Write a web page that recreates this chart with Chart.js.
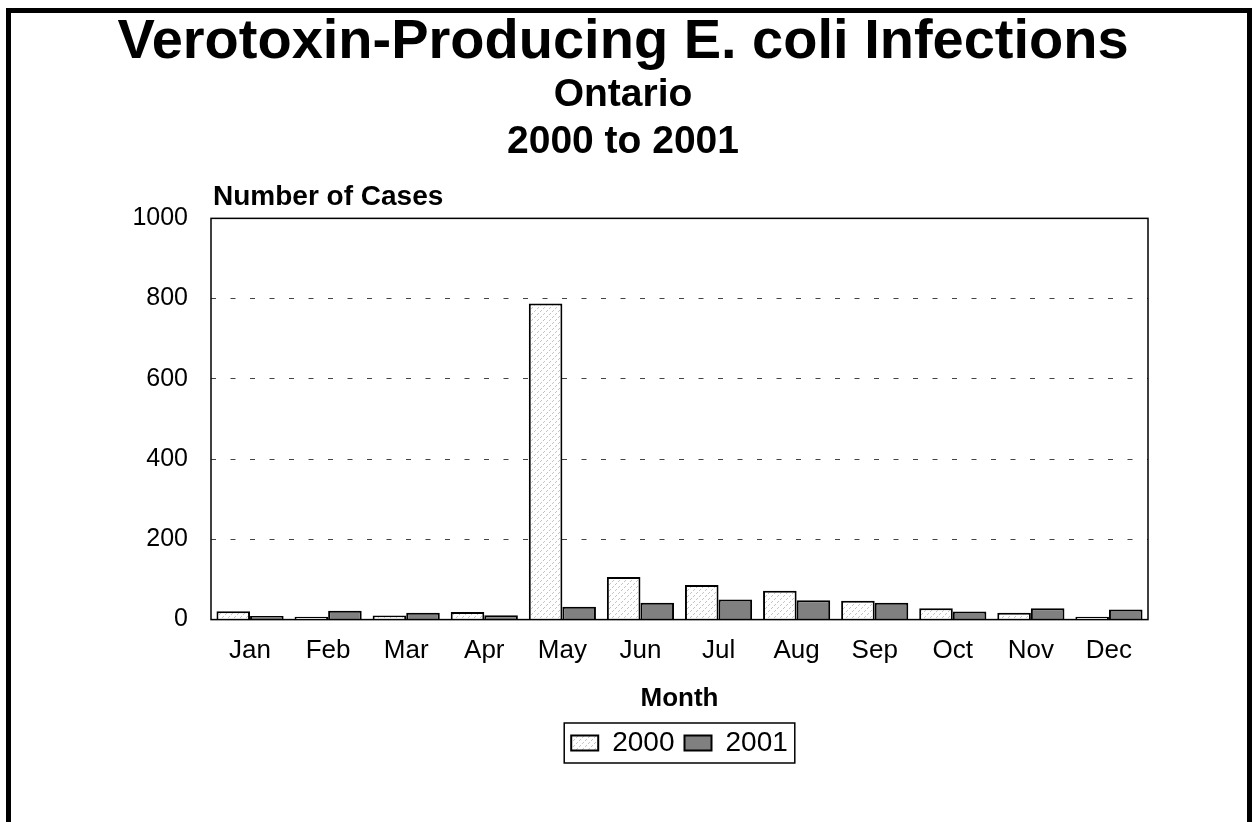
<!DOCTYPE html>
<html>
<head>
<meta charset="utf-8">
<script src="https://cdn.jsdelivr.net/npm/chart.js@4"></script>
<style>
  body { margin: 0; background: #fff; }
  #wrap { position: relative; width: 1256px; height: 822px; overflow: hidden; }
  #frame { position: absolute; left: 6px; top: 8px; width: 1236px; height: 900px; border: 5px solid #000; pointer-events: none; }
</style>
</head>
<body>
<div id="wrap">
  <canvas id="vtecChart" width="1256" height="822"></canvas>
  <div id="frame"></div>
</div>
<script>
const months = ['Jan', 'Feb', 'Mar', 'Apr', 'May', 'Jun', 'Jul', 'Aug', 'Sep', 'Oct', 'Nov', 'Dec'];
const cases2000 = [21, 7, 10, 19, 788, 106, 86, 72, 47, 28, 17, 7];
const cases2001 = [9, 22, 17, 11, 32, 42, 50, 48, 42, 20, 28, 25];
const yMax = 1000;
const yStep = 200;

const FONT = "'Liberation Sans', Arial, sans-serif";

// light diagonal hatch for 2000
function hatch() {
  const c = document.createElement('canvas');
  c.width = 6; c.height = 6;
  const g = c.getContext('2d');
  g.fillStyle = '#fff';
  g.fillRect(0, 0, 6, 6);
  g.fillStyle = '#c4c4c4';
  for (let i = 0; i < 6; i += 1) {
    if (i % 3 !== 2) g.fillRect(i, 5 - i, 1, 1);
  }
  return g.createPattern(c, 'repeat');
}

// plot border, axis caption and legend box
const extras = {
  id: 'extras',
  afterLayout(chart) {
    // centre the legend under the plot, not the whole canvas
    const lg = chart.legend;
    const a = chart.chartArea;
    if (lg) {
      lg.left = a.left;
      lg.right = a.right;
      lg.width = a.right - a.left;
    }
  },
  afterDraw(chart) {
    const ctx = chart.ctx;
    const a = chart.chartArea;
    ctx.save();
    ctx.strokeStyle = '#000';
    ctx.lineWidth = 1.5;
    ctx.strokeRect(a.left, a.top, a.right - a.left, a.bottom - a.top);

    ctx.fillStyle = '#000';
    ctx.font = 'bold 28px ' + FONT;
    ctx.textAlign = 'left';
    ctx.textBaseline = 'alphabetic';
    ctx.fillText('Number of Cases', a.left + 2, a.top - 13);

    const boxes = chart.legend.legendHitBoxes;
    if (boxes && boxes.length) {
      let x1 = Infinity, y1 = Infinity, x2 = -Infinity, y2 = -Infinity;
      boxes.forEach(b => {
        x1 = Math.min(x1, b.left); y1 = Math.min(y1, b.top);
        x2 = Math.max(x2, b.left + b.width); y2 = Math.max(y2, b.top + b.height);
      });
      ctx.lineWidth = 1.5;
      ctx.strokeRect(x1 - 7, y1 - 6, x2 - x1 + 14, y2 - y1 + 12);
    }
    ctx.restore();
  }
};

Chart.defaults.font.family = FONT;
Chart.defaults.color = '#000';

const ctx = document.getElementById('vtecChart').getContext('2d');
new Chart(ctx, {
  type: 'bar',
  data: {
    labels: months,
    datasets: [
      {
        label: '2000',
        data: cases2000,
        backgroundColor: hatch(),
        borderColor: '#000',
        borderWidth: 2
      },
      {
        label: '2001',
        data: cases2001,
        backgroundColor: '#808080',
        borderColor: '#000',
        borderWidth: 2
      }
    ]
  },
  options: {
    responsive: false,
    animation: false,
    layout: { padding: { left: 98, right: 108, bottom: 55 } },
    datasets: { bar: { categoryPercentage: 0.86, barPercentage: 1 } },
    scales: {
      x: {
        grid: { display: false, drawTicks: false },
        border: { display: false },
        ticks: { font: { size: 26 }, padding: 16 },
        title: {
          display: true,
          text: 'Month',
          font: { size: 26, weight: 'bold' },
          padding: { top: 0, bottom: 5 }
        }
      },
      y: {
        min: 0,
        max: yMax,
        afterFit(scale) { scale.width = 113; },
        ticks: { stepSize: yStep, font: { size: 25 }, padding: 23, callback: v => String(v) },
        grid: {
          drawTicks: false,
          color: c => (c.tick.value === 0 || c.tick.value === yMax) ? 'rgba(0,0,0,0)' : '#444',
          lineWidth: 1
        },
        border: { display: false, dash: [5, 14.5] }
      }
    },
    plugins: {
      title: {
        display: true,
        text: 'Verotoxin-Producing E. coli Infections',
        font: { size: 56, weight: 'bold', lineHeight: 0.95 },
        padding: { top: 16, bottom: 2 }
      },
      subtitle: {
        display: true,
        text: ['Ontario', '2000 to 2001'],
        color: '#000',
        font: { size: 39, weight: 'bold', lineHeight: 1.22 },
        padding: { top: 0, bottom: 52 }
      },
      legend: {
        position: 'bottom',
        labels: { font: { size: 28 }, boxWidth: 27, boxHeight: 15, padding: 10 }
      },
      tooltip: { enabled: false }
    }
  },
  plugins: [extras]
});
</script>
</body>
</html>
